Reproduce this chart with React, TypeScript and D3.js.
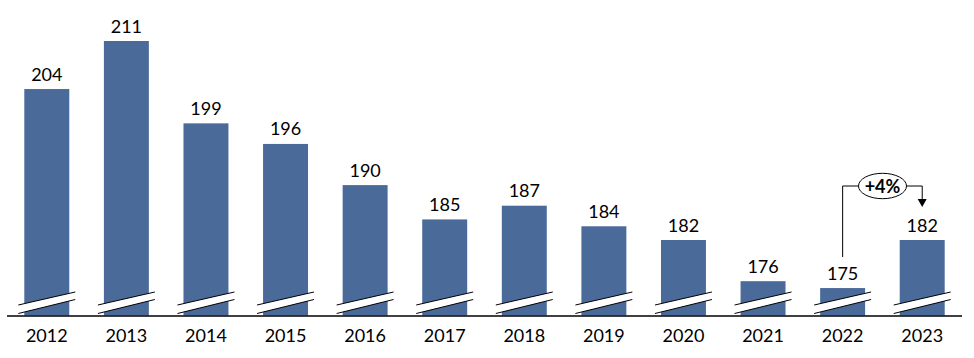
import React from "react";
import * as d3 from "d3";

const years = ["2012", "2013", "2014", "2015", "2016", "2017", "2018", "2019", "2020", "2021", "2022", "2023"];
const values = [204, 211, 199, 196, 190, 185, 187, 184, 182, 176, 175, 182];
const annotationFrom = "2022";
const annotationTo = "2023";
const annotationLabel = "+4%";

const W = 974;
const H = 358;
const FONT = "Lato, 'Open Sans', 'DejaVu Sans', sans-serif";
const BAR = "#4a6a9a";

export default function App() {
  const x = d3.scaleBand<string>().domain(years).range([7, 962]).paddingInner(0.435).paddingOuter(0.2175);
  const y = d3.scaleLinear().domain([171, 211]).range([315.5, 41]);
  const bw = x.bandwidth();
  const axisY = 315.5;

  const xa = (x(annotationFrom) as number) + bw / 2;
  const xb = (x(annotationTo) as number) + bw / 2;
  const lineY = 186;
  const ex = 882.5;
  const rx = 24;
  const ry = 12.7;
  const fromIdx = years.indexOf(annotationFrom);
  const toIdx = years.indexOf(annotationTo);
  const fromTop = y(values[fromIdx]) - 31;
  const tipY = y(values[toIdx]) - 33;

  return (
    <svg width={W} height={H} style={{ position: "absolute", left: 0, top: 0, background: "#fff" }} fontFamily={FONT}>
      {years.map((yr, i) => {
        const x0 = x(yr) as number;
        const x1 = x0 + bw;
        const top = y(values[i]);
        const l = x0 - 6;
        const r = x1 + 6;
        return (
          <g key={yr}>
            <rect x={x0} y={top} width={bw} height={axisY - top} fill={BAR} />
            <polygon points={`${l},305 ${r},292 ${r},299.5 ${l},313.5`} fill="#fff" />
            <line x1={l} y1={305} x2={r} y2={292} stroke="#000" strokeWidth={1} />
            <line x1={l} y1={313.5} x2={r} y2={299.5} stroke="#000" strokeWidth={1} />
            <text x={x0 + bw / 2} y={top - 8.5} textAnchor="middle" fontSize={18} fill="#000">
              {values[i]}
            </text>
            <text x={x0 + bw / 2} y={342} textAnchor="middle" fontSize={18} fill="#000">
              {yr}
            </text>
          </g>
        );
      })}
      <line x1={7} y1={axisY + 0.5} x2={962} y2={axisY + 0.5} stroke="#000" strokeWidth={1.3} />
      <path
        d={`M${xa},${fromTop} V${lineY} H${ex - rx} M${ex + rx},${lineY} H${xb} V${tipY - 8}`}
        fill="none"
        stroke="#000"
        strokeWidth={1}
      />
      <polygon points={`${xb - 4.5},${tipY - 8} ${xb + 4.5},${tipY - 8} ${xb},${tipY}`} fill="#000" />
      <ellipse cx={ex} cy={lineY} rx={rx} ry={ry} fill="#fff" stroke="#000" strokeWidth={1} />
      <text x={ex} y={lineY + 6.5} textAnchor="middle" fontSize={18} fontWeight="bold" fill="#000">
        {annotationLabel}
      </text>
    </svg>
  );
}
